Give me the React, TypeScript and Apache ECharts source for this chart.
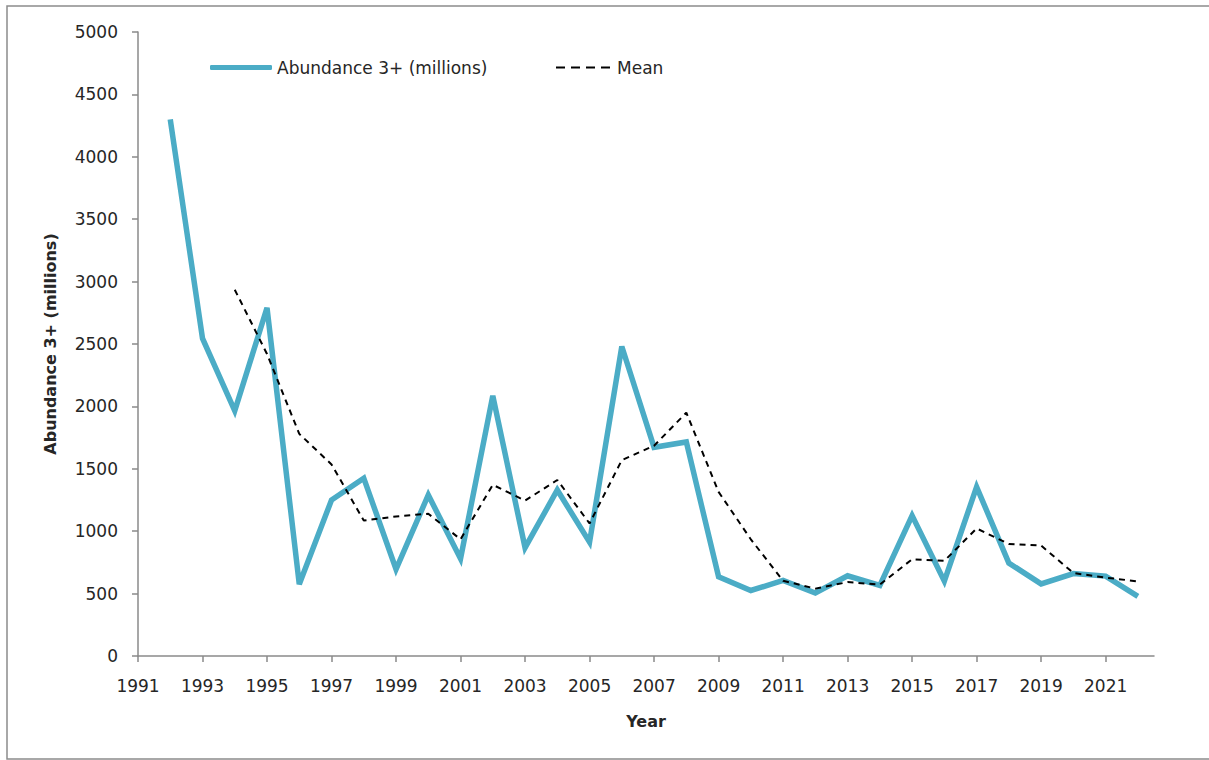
import React, { useEffect, useRef } from "react";
import * as echarts from "echarts";

const years = [1992, 1993, 1994, 1995, 1996, 1997, 1998, 1999, 2000, 2001, 2002, 2003, 2004, 2005, 2006, 2007, 2008, 2009, 2010, 2011, 2012, 2013, 2014, 2015, 2016, 2017, 2018, 2019, 2020, 2021, 2022];
const abundance = [4300, 2545, 1965, 2790, 575, 1250, 1425, 695, 1290, 780, 2085, 868, 1330, 912, 2480, 1672, 1715, 635, 525, 605, 505, 643, 565, 1125, 600, 1355, 745, 578, 660, 640, 478];
const meanYears = [1994, 1995, 1996, 1997, 1998, 1999, 2000, 2001, 2002, 2003, 2004, 2005, 2006, 2007, 2008, 2009, 2010, 2011, 2012, 2013, 2014, 2015, 2016, 2017, 2018, 2019, 2020, 2021, 2022];
const meanValues = [2935, 2420, 1780, 1535, 1085, 1118, 1140, 935, 1372, 1245, 1410, 1062, 1570, 1685, 1950, 1315, 935, 603, 540, 592, 572, 775, 762, 1022, 898, 885, 665, 628, 598];
const xTickLabels = [1991, 1993, 1995, 1997, 1999, 2001, 2003, 2005, 2007, 2009, 2011, 2013, 2015, 2017, 2019, 2021];

const FONT = "DejaVu Sans";
const AXIS_GREY = "#8a8a8a";
const TEXT = "#262626";
const BLUE = "#4bacc6";

export default function App() {
  const ref = useRef<HTMLDivElement>(null);
  useEffect(() => {
    if (!ref.current) return;
    const chart = echarts.init(ref.current, undefined, { renderer: "svg" });
    chart.setOption({
      animation: false,
      backgroundColor: "#ffffff",
      textStyle: { fontFamily: FONT },
      graphic: [
        {
          type: "rect",
          shape: { x: 7, y: 6, width: 1300, height: 753 },
          style: { fill: "none", stroke: "#8c8c8c", lineWidth: 1.5 },
          silent: true,
          z: -1,
        },
      ],
      legend: [
        {
          data: [{ name: "Abundance 3+ (millions)", icon: "roundRect" }],
          left: 205,
          top: 54,
          itemWidth: 62,
          itemHeight: 5,
          symbolKeepAspect: false,
          itemStyle: { color: BLUE, borderWidth: 0 },
          textStyle: { fontFamily: FONT, fontSize: 17, color: TEXT },
          selectedMode: false,
        },
        {
          data: [{ name: "Mean", icon: "path://M0,0h9v2h-9z M15,0h9v2h-9z M30,0h9v2h-9z M45,0h9v2h-9z" }],
          left: 551,
          top: 54,
          itemWidth: 54,
          itemHeight: 2,
          symbolKeepAspect: false,
          itemStyle: { color: "#000000", borderWidth: 0 },
          textStyle: { fontFamily: FONT, fontSize: 17, color: TEXT, padding: [0, 0, 0, 2] },
          selectedMode: false,
        },
      ],
      grid: { left: 138, right: 55, top: 32, bottom: 104, containLabel: false },
      xAxis: {
        type: "value",
        min: 1991,
        max: 2022.5,
        interval: 2,
        name: "Year",
        nameLocation: "middle",
        nameGap: 57,
        nameTextStyle: { fontFamily: FONT, fontSize: 16, fontWeight: "bold", color: TEXT },
        axisLine: { show: true, lineStyle: { color: AXIS_GREY, width: 1.5 } },
        axisTick: { show: true, length: 6, inside: false, lineStyle: { color: AXIS_GREY, width: 1.5 }, customValues: xTickLabels },
        axisLabel: {
          fontFamily: FONT,
          fontSize: 17,
          color: TEXT,
          margin: 21,
          customValues: xTickLabels,
          formatter: (v: number) => String(v),
        },
        splitLine: { show: false },
      },
      yAxis: {
        type: "value",
        min: 0,
        max: 5000,
        interval: 500,
        name: "Abundance 3+ (millions)",
        nameLocation: "middle",
        nameGap: 80,
        nameRotate: 90,
        nameTextStyle: { fontFamily: FONT, fontSize: 16, fontWeight: "bold", color: TEXT },
        axisLine: { show: true, lineStyle: { color: AXIS_GREY, width: 1.5 } },
        axisTick: { show: true, length: 6, inside: false, lineStyle: { color: AXIS_GREY, width: 1.5 } },
        axisLabel: { fontFamily: FONT, fontSize: 17, color: TEXT, margin: 20, formatter: (v: number) => String(v) },
        splitLine: { show: false },
      },
      series: [
        {
          name: "Abundance 3+ (millions)",
          type: "line",
          data: years.map((y, i) => [y, abundance[i]]),
          showSymbol: false,
          symbol: "none",
          lineStyle: { color: BLUE, width: 5.5, join: "miter" },
          itemStyle: { color: BLUE },
          z: 2,
        },
        {
          name: "Mean",
          type: "line",
          data: meanYears.map((y, i) => [y, meanValues[i]]),
          showSymbol: false,
          symbol: "none",
          lineStyle: { color: "#000000", width: 2, type: [6, 5] },
          itemStyle: { color: "#000000" },
          z: 3,
        },
      ],
    });
    return () => chart.dispose();
  }, []);
  return (
    <div
      ref={ref}
      style={{ position: "absolute", left: 0, top: 0, width: 1209, height: 760 }}
    />
  );
}
